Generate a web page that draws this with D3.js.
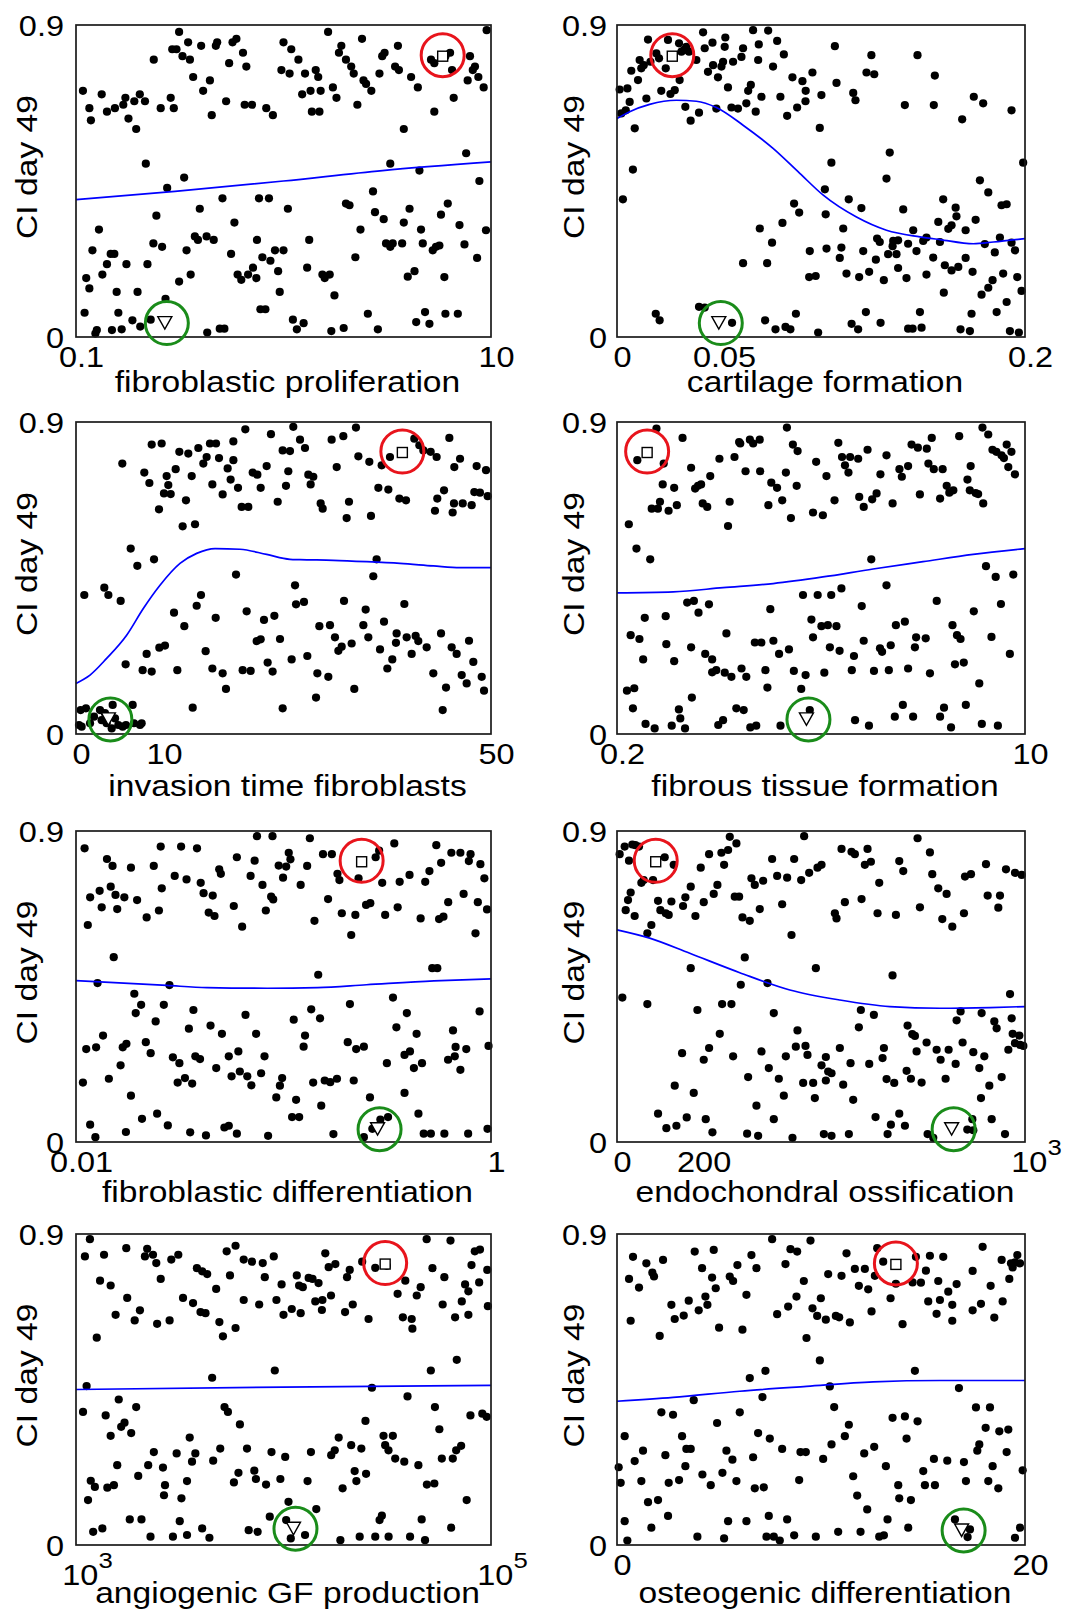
<!DOCTYPE html>
<html><head><meta charset="utf-8">
<script src="https://cdn.jsdelivr.net/npm/d3@7"></script>
<style>html,body{margin:0;padding:0;background:#fff;}svg{display:block;}</style>
</head><body>
<svg id="c" width="1073" height="1612"></svg>
<script>
// ---------- shared y axis ----------
const yDomain = [0, 0.9];
const yTickValues = [0, 0.9];
const yTickLabels = ['0', '0.9'];
const yTitle = 'CI day 49';

// ---------- panel titles & x ticks ----------
const xTitles = ['fibroblastic proliferation','cartilage formation','invasion time fibroblasts','fibrous tissue formation','fibroblastic differentiation','endochondral ossification','angiogenic GF production','osteogenic differentiation'];
const xDomains = [[0.1,10],[0,0.2],[0,50],[0.2,10],[0.01,1],[0,1000],[1000,100000],[0,20]];
const xLog = [true,false,false,true,true,false,true,false];
const xTickValues = [[0.1,10],[0,0.05,0.2],[0,10,50],[0.2,10],[0.01,1],[0,200,1000],[1000,100000],[0,20]];
const xTickLabels = [['0.1','10'],['0','0.05','0.2'],['0','10','50'],['0.2','10'],['0.01','1'],['0','200','10^3'],['10^3','10^5'],['0','20']];

// ---------- scatter samples [x, CI] ----------
const fibroProlifPts = [[0.108,0.71],[0.116,0.66],[0.118,0.625],[0.133,0.70],[0.141,0.65],[0.154,0.66],[0.169,0.67],[0.173,0.69],[0.179,0.63],[0.191,0.68],[0.195,0.60],[0.203,0.70],[0.215,0.68],[0.237,0.80],[0.256,0.66],[0.286,0.69],[0.296,0.66],[0.314,0.88],[0.291,0.83],[0.305,0.83],[0.326,0.81],[0.347,0.85],[0.354,0.80],[0.367,0.75],[0.401,0.84],[0.41,0.71],[0.442,0.74],[0.451,0.64],[0.472,0.84],[0.479,0.85],[0.529,0.68],[0.547,0.79],[0.568,0.85],[0.593,0.86],[0.638,0.82],[0.662,0.78],[0.65,0.67],[0.705,0.67],[0.826,0.66],[0.889,0.64],[1.0,0.85],[0.977,0.77],[1.09,0.83],[1.07,0.76],[1.18,0.80],[1.23,0.70],[1.27,0.76],[1.35,0.71],[1.37,0.65],[1.43,0.77],[1.47,0.75],[1.49,0.65],[1.51,0.71],[1.64,0.88],[1.73,0.72],[1.80,0.69],[1.85,0.82],[1.90,0.84],[2.0,0.80],[2.12,0.78],[2.18,0.76],[2.27,0.67],[2.39,0.86],[2.43,0.74],[2.50,0.73],[2.65,0.71],[2.90,0.76],[2.99,0.81],[3.07,0.82],[3.45,0.78],[3.56,0.84],[3.60,0.77],[3.80,0.60],[4.12,0.75],[4.44,0.72],[5.14,0.80],[5.33,0.65],[5.33,0.79],[6.03,0.81],[6.35,0.82],[6.49,0.77],[6.61,0.69],[7.92,0.81],[7.72,0.74],[8.17,0.77],[8.37,0.78],[8.69,0.75],[9.22,0.72],[9.53,0.885],[7.59,0.53],[0.217,0.50],[0.332,0.46],[0.275,0.43],[3.27,0.50],[4.52,0.48],[8.79,0.45],[0.129,0.31],[0.12,0.25],[0.112,0.17],[0.116,0.14],[0.11,0.07],[0.126,0.02],[0.124,0.01],[0.134,0.18],[0.141,0.21],[0.147,0.24],[0.153,0.24],[0.157,0.13],[0.16,0.07],[0.149,0.02],[0.166,0.022],[0.175,0.21],[0.187,0.048],[0.198,0.13],[0.204,0.03],[0.221,0.21],[0.229,0.05],[0.236,0.27],[0.244,0.35],[0.26,0.26],[0.27,0.11],[0.314,0.16],[0.341,0.25],[0.357,0.18],[0.374,0.29],[0.387,0.28],[0.395,0.37],[0.426,0.29],[0.429,0.013],[0.461,0.28],[0.493,0.024],[0.519,0.024],[0.508,0.40],[0.559,0.24],[0.58,0.33],[0.601,0.18],[0.626,0.165],[0.675,0.18],[0.713,0.20],[0.74,0.17],[0.745,0.28],[0.762,0.40],[0.774,0.08],[0.791,0.23],[0.818,0.08],[0.851,0.40],[0.865,0.22],[0.91,0.25],[0.942,0.19],[0.959,0.13],[1.0,0.25],[1.05,0.37],[1.11,0.05],[1.16,0.022],[1.25,0.04],[1.30,0.20],[1.33,0.28],[1.54,0.18],[1.58,0.17],[1.67,0.18],[1.70,0.017],[1.76,0.12],[1.95,0.026],[2.0,0.385],[2.08,0.38],[2.22,0.23],[2.35,0.31],[2.55,0.067],[2.70,0.42],[2.76,0.36],[2.85,0.022],[3.04,0.34],[3.12,0.27],[3.27,0.26],[3.36,0.27],[3.73,0.27],[3.80,0.33],[3.97,0.174],[4.05,0.37],[4.28,0.19],[4.36,0.043],[4.6,0.31],[4.69,0.27],[4.81,0.072],[5.05,0.038],[5.24,0.25],[5.43,0.26],[5.64,0.264],[5.74,0.353],[5.96,0.173],[6.03,0.067],[6.19,0.385],[6.92,0.067],[7.05,0.323],[7.45,0.267],[8.57,0.228],[9.46,0.308]];
const cartilagePts = [[0.0013,0.714],[0.0051,0.717],[0.0021,0.645],[0.0043,0.654],[0.0062,0.678],[0.0070,0.768],[0.0087,0.602],[0.0078,0.483],[0.0029,0.397],[0.0103,0.741],[0.0111,0.799],[0.0119,0.775],[0.0131,0.784],[0.0144,0.688],[0.0152,0.858],[0.0164,0.794],[0.0193,0.818],[0.0206,0.804],[0.0217,0.710],[0.0239,0.775],[0.0250,0.857],[0.0262,0.701],[0.0283,0.712],[0.0304,0.847],[0.0316,0.823],[0.0307,0.741],[0.0329,0.828],[0.0340,0.837],[0.0353,0.823],[0.0335,0.664],[0.0361,0.624],[0.0389,0.799],[0.0402,0.647],[0.0422,0.879],[0.0430,0.833],[0.0446,0.765],[0.0468,0.849],[0.0471,0.784],[0.0487,0.659],[0.0495,0.749],[0.0512,0.780],[0.0520,0.794],[0.0531,0.864],[0.0528,0.837],[0.0544,0.720],[0.0561,0.662],[0.0569,0.794],[0.0593,0.659],[0.0610,0.808],[0.0618,0.833],[0.0634,0.674],[0.0643,0.710],[0.0656,0.727],[0.0667,0.885],[0.0680,0.650],[0.0692,0.799],[0.0695,0.844],[0.0708,0.693],[0.0741,0.884],[0.0765,0.780],[0.0785,0.854],[0.0801,0.693],[0.0818,0.815],[0.0834,0.638],[0.0860,0.749],[0.0883,0.662],[0.0909,0.738],[0.0924,0.680],[0.0925,0.710],[0.0958,0.763],[0.0994,0.603],[0.1002,0.698],[0.1051,0.503],[0.1068,0.839],[0.1076,0.733],[0.1158,0.704],[0.1169,0.683],[0.1223,0.763],[0.1247,0.813],[0.1261,0.758],[0.1411,0.669],[0.1473,0.813],[0.1553,0.669],[0.1558,0.754],[0.1692,0.628],[0.1749,0.693],[0.1795,0.674],[0.1934,0.654],[0.1337,0.532],[0.1321,0.457],[0.1019,0.426],[0.1991,0.503],[0.1779,0.452],[0.1820,0.417],[0.1599,0.397],[0.1660,0.373],[0.1885,0.380],[0.1910,0.383],[0.1136,0.397],[0.1198,0.372],[0.0868,0.385],[0.0893,0.359],[0.1023,0.354],[0.1403,0.368],[0.1664,0.348],[0.1575,0.332],[0.1624,0.312],[0.1640,0.322],[0.1758,0.338],[0.1709,0.308],[0.1109,0.313],[0.1452,0.308],[0.1517,0.287],[0.1501,0.277],[0.1583,0.274],[0.1877,0.287],[0.1934,0.272],[0.1275,0.284],[0.1288,0.274],[0.1354,0.277],[0.1378,0.279],[0.1351,0.262],[0.1427,0.269],[0.1803,0.268],[0.0811,0.329],[0.0700,0.313],[0.0760,0.272],[0.0945,0.248],[0.1027,0.255],[0.1100,0.258],[0.1207,0.248],[0.1329,0.239],[0.1370,0.239],[0.1468,0.248],[0.1852,0.244],[0.1951,0.250],[0.1092,0.228],[0.1269,0.223],[0.1550,0.229],[0.1709,0.228],[0.0618,0.213],[0.0736,0.213],[0.1607,0.207],[0.1673,0.202],[0.1125,0.183],[0.1187,0.173],[0.1236,0.188],[0.1378,0.199],[0.1517,0.180],[0.1640,0.192],[0.1743,0.188],[0.1893,0.183],[0.1962,0.173],[0.0942,0.173],[0.0974,0.176],[0.1308,0.164],[0.1419,0.170],[0.1841,0.164],[0.1820,0.142],[0.1787,0.122],[0.1602,0.128],[0.1983,0.133],[0.1910,0.101],[0.1861,0.072],[0.0402,0.087],[0.0430,0.085],[0.0190,0.067],[0.0209,0.048],[0.0564,0.041],[0.0726,0.048],[0.0777,0.022],[0.0826,0.029],[0.0850,0.022],[0.0877,0.067],[0.0986,0.013],[0.1150,0.038],[0.1182,0.022],[0.1220,0.072],[0.1292,0.041],[0.1427,0.024],[0.1449,0.024],[0.1485,0.072],[0.1493,0.027],[0.1684,0.022],[0.1730,0.017],[0.1738,0.067],[0.1926,0.017],[0.1970,0.013]];
const invasionPts = [[5.58,0.780],[8.23,0.754],[8.84,0.724],[9.12,0.835],[10.0,0.648],[10.32,0.838],[10.60,0.694],[10.92,0.744],[11.12,0.718],[11.41,0.692],[12.01,0.764],[12.45,0.814],[12.85,0.599],[13.25,0.674],[13.53,0.809],[13.94,0.744],[14.34,0.605],[14.74,0.825],[15.34,0.780],[15.74,0.799],[16.14,0.838],[16.43,0.720],[16.87,0.838],[17.23,0.796],[17.67,0.691],[18.27,0.766],[18.63,0.734],[18.96,0.844],[18.96,0.790],[19.52,0.710],[19.96,0.655],[20.40,0.879],[20.76,0.655],[21.29,0.754],[21.85,0.748],[22.25,0.710],[22.97,0.773],[23.49,0.865],[24.30,0.670],[24.90,0.818],[25.30,0.716],[25.58,0.758],[25.78,0.816],[26.18,0.886],[26.99,0.849],[27.59,0.825],[27.99,0.748],[28.27,0.720],[28.59,0.742],[29.48,0.665],[29.72,0.650],[30.80,0.849],[31.41,0.770],[32.21,0.859],[32.61,0.623],[32.89,0.670],[33.73,0.884],[34.02,0.801],[35.34,0.785],[35.54,0.629],[36.43,0.710],[36.83,0.775],[37.63,0.705],[37.83,0.799],[38.96,0.679],[39.76,0.674],[40.76,0.852],[41.37,0.833],[41.85,0.818],[42.73,0.814],[43.45,0.799],[43.25,0.644],[43.53,0.679],[44.34,0.703],[44.98,0.854],[45.38,0.639],[45.58,0.770],[46.27,0.794],[45.54,0.665],[46.59,0.665],[47.67,0.660],[47.99,0.698],[48.27,0.773],[48.67,0.696],[49.40,0.761],[49.60,0.686],[6.59,0.535],[9.40,0.504],[7.39,0.485],[1.00,0.401],[3.41,0.422],[3.90,0.401],[5.38,0.384],[19.28,0.460],[36.22,0.504],[35.82,0.455],[26.39,0.429],[15.06,0.401],[14.54,0.370],[11.81,0.350],[13.05,0.311],[5.98,0.201],[8.03,0.184],[9.12,0.180],[8.51,0.231],[10.04,0.249],[10.72,0.255],[12.21,0.184],[14.06,0.076],[15.62,0.239],[16.43,0.189],[16.83,0.335],[17.67,0.175],[18.07,0.130],[20.08,0.184],[20.56,0.354],[21.04,0.182],[21.77,0.268],[22.25,0.273],[22.65,0.329],[23.09,0.206],[23.69,0.180],[23.90,0.341],[24.58,0.274],[25.98,0.215],[26.51,0.374],[27.47,0.381],[27.87,0.225],[28.92,0.105],[29.08,0.175],[29.32,0.311],[30.40,0.165],[30.60,0.314],[31.20,0.279],[31.61,0.240],[32.01,0.252],[32.29,0.384],[33.21,0.261],[33.53,0.130],[34.62,0.314],[34.90,0.359],[35.22,0.279],[36.63,0.244],[37.11,0.324],[37.51,0.189],[38.11,0.215],[38.63,0.290],[38.55,0.263],[39.56,0.375],[39.84,0.279],[40.44,0.231],[40.92,0.283],[41.24,0.268],[42.25,0.250],[43.05,0.175],[43.98,0.290],[44.18,0.069],[44.58,0.134],[45.26,0.250],[45.86,0.231],[46.47,0.170],[47.07,0.146],[47.35,0.269],[47.87,0.208],[48.88,0.165],[49.16,0.125],[24.90,0.074],[0.36,0.026],[0.68,0.021],[0.56,0.069],[1.20,0.074],[1.69,0.031],[2.17,0.050],[2.89,0.069],[3.09,0.040],[3.49,0.060],[3.69,0.031],[4.42,0.084],[4.30,0.016],[4.70,0.045],[5.10,0.026],[5.62,0.021],[6.02,0.026],[6.83,0.084],[6.99,0.031],[7.71,0.026],[7.91,0.031]];
const fibrousPts = [[0.292,0.881],[0.243,0.790],[0.313,0.780],[0.224,0.605],[0.241,0.535],[0.275,0.504],[0.279,0.650],[0.296,0.650],[0.302,0.670],[0.310,0.720],[0.328,0.644],[0.346,0.710],[0.355,0.660],[0.375,0.854],[0.407,0.768],[0.423,0.708],[0.435,0.716],[0.448,0.720],[0.455,0.665],[0.475,0.655],[0.489,0.744],[0.534,0.794],[0.580,0.600],[0.589,0.670],[0.617,0.799],[0.645,0.842],[0.652,0.838],[0.686,0.758],[0.715,0.849],[0.738,0.838],[0.786,0.849],[0.789,0.758],[0.854,0.660],[0.878,0.725],[0.928,0.710],[0.975,0.674],[1.01,0.754],[1.02,0.884],[1.06,0.623],[1.08,0.835],[1.13,0.816],[1.12,0.716],[1.31,0.639],[1.35,0.785],[1.44,0.631],[1.49,0.744],[1.61,0.674],[1.67,0.840],[1.73,0.799],[1.78,0.775],[1.84,0.754],[1.87,0.799],[2.02,0.794],[2.04,0.684],[2.13,0.655],[2.21,0.820],[2.31,0.677],[2.41,0.694],[2.50,0.749],[2.65,0.804],[2.81,0.665],[3.0,0.764],[3.07,0.742],[3.26,0.773],[3.37,0.835],[3.58,0.826],[3.65,0.691],[3.90,0.823],[3.96,0.780],[4.09,0.854],[4.17,0.764],[4.43,0.679],[4.54,0.764],[4.72,0.716],[4.84,0.696],[5.03,0.703],[5.32,0.859],[5.76,0.734],[5.89,0.703],[5.94,0.773],[6.23,0.695],[6.38,0.692],[6.70,0.665],[6.65,0.884],[7.03,0.864],[7.32,0.820],[7.60,0.814],[7.98,0.804],[8.17,0.796],[8.39,0.835],[8.52,0.770],[8.78,0.814],[9.08,0.749],[2.29,0.504],[2.65,0.429],[6.88,0.484],[7.55,0.453],[8.94,0.460],[7.94,0.375],[4.29,0.384],[6.12,0.354],[0.261,0.335],[0.228,0.285],[0.248,0.274],[0.257,0.215],[0.220,0.125],[0.236,0.132],[0.233,0.074],[0.263,0.029],[0.287,0.016],[0.319,0.340],[0.321,0.259],[0.338,0.024],[0.346,0.210],[0.362,0.071],[0.367,0.045],[0.384,0.016],[0.392,0.379],[0.418,0.384],[0.437,0.350],[0.407,0.250],[0.410,0.105],[0.466,0.231],[0.483,0.374],[0.498,0.215],[0.498,0.178],[0.518,0.184],[0.528,0.026],[0.553,0.040],[0.571,0.290],[0.562,0.177],[0.599,0.165],[0.628,0.074],[0.660,0.189],[0.674,0.069],[0.691,0.165],[0.718,0.019],[0.750,0.264],[0.760,0.024],[0.798,0.264],[0.830,0.184],[0.846,0.134],[0.870,0.360],[0.896,0.269],[0.946,0.231],[0.959,0.024],[1.04,0.244],[1.09,0.182],[1.17,0.130],[1.19,0.401],[1.22,0.170],[1.27,0.069],[1.29,0.330],[1.31,0.279],[1.37,0.401],[1.42,0.311],[1.46,0.177],[1.51,0.314],[1.54,0.250],[1.56,0.401],[1.64,0.311],[1.69,0.240],[1.72,0.420],[1.90,0.184],[1.94,0.225],[1.96,0.040],[2.09,0.369],[2.13,0.269],[2.24,0.024],[2.35,0.182],[2.49,0.247],[2.54,0.237],[2.71,0.184],[2.76,0.256],[2.87,0.050],[2.90,0.314],[3.10,0.084],[3.16,0.324],[3.26,0.189],[3.42,0.050],[3.48,0.250],[3.52,0.279],[3.86,0.276],[4.02,0.175],[4.43,0.050],[4.60,0.076],[4.92,0.019],[4.99,0.314],[5.21,0.285],[5.39,0.274],[5.11,0.201],[5.56,0.206],[5.67,0.084],[6.45,0.146],[6.61,0.029],[7.25,0.280],[7.71,0.024],[8.65,0.231]];
const fibroDiffPts = [[0.0110,0.850],[0.0114,0.628],[0.0117,0.708],[0.0130,0.727],[0.0133,0.679],[0.0141,0.819],[0.0147,0.739],[0.0150,0.799],[0.0152,0.535],[0.0155,0.715],[0.0158,0.674],[0.0171,0.708],[0.0184,0.794],[0.0197,0.700],[0.0219,0.650],[0.0237,0.799],[0.0251,0.670],[0.0256,0.855],[0.0259,0.734],[0.0299,0.770],[0.0321,0.855],[0.0341,0.760],[0.0383,0.850],[0.0399,0.750],[0.0412,0.720],[0.0436,0.664],[0.0456,0.713],[0.0465,0.654],[0.0490,0.789],[0.0499,0.776],[0.0576,0.683],[0.0596,0.824],[0.0632,0.623],[0.0694,0.770],[0.0726,0.814],[0.0745,0.885],[0.0792,0.744],[0.0822,0.670],[0.0872,0.710],[0.0892,0.702],[0.0885,0.885],[0.0948,0.800],[0.0995,0.765],[0.103,0.797],[0.106,0.837],[0.108,0.818],[0.121,0.744],[0.130,0.799],[0.134,0.879],[0.141,0.640],[0.155,0.833],[0.164,0.703],[0.171,0.833],[0.186,0.758],[0.182,0.776],[0.191,0.662],[0.212,0.599],[0.222,0.657],[0.230,0.763],[0.250,0.686],[0.262,0.691],[0.278,0.824],[0.289,0.843],[0.299,0.750],[0.309,0.657],[0.342,0.864],[0.355,0.679],[0.363,0.753],[0.405,0.773],[0.458,0.647],[0.482,0.753],[0.505,0.784],[0.545,0.859],[0.562,0.645],[0.575,0.808],[0.590,0.652],[0.622,0.694],[0.644,0.837],[0.712,0.837],[0.738,0.718],[0.782,0.813],[0.797,0.833],[0.842,0.604],[0.864,0.694],[0.889,0.804],[0.929,0.763],[0.957,0.673],[0.147,0.484],[0.521,0.503],[0.551,0.503],[0.0127,0.460],[0.0282,0.454],[0.881,0.378],[0.0191,0.429],[0.0206,0.397],[0.0194,0.373],[0.0265,0.397],[0.0368,0.382],[0.0242,0.349],[0.0350,0.328],[0.0445,0.337],[0.0505,0.313],[0.0656,0.368],[0.0738,0.313],[0.112,0.354],[0.127,0.308],[0.125,0.276],[0.136,0.384],[0.150,0.358],[0.209,0.399],[0.204,0.289],[0.224,0.269],[0.244,0.276],[0.337,0.418],[0.350,0.332],[0.393,0.373],[0.438,0.313],[0.656,0.323],[0.675,0.275],[0.760,0.269],[0.973,0.278],[0.0135,0.308],[0.0112,0.269],[0.0125,0.274],[0.0168,0.274],[0.0175,0.284],[0.0217,0.289],[0.0229,0.257],[0.0293,0.245],[0.0315,0.228],[0.0376,0.248],[0.0396,0.240],[0.0474,0.214],[0.0545,0.248],[0.0606,0.262],[0.0810,0.248],[0.0164,0.222],[0.0108,0.172],[0.0144,0.183],[0.0184,0.134],[0.0309,0.172],[0.0335,0.185],[0.0363,0.169],[0.0562,0.190],[0.0616,0.204],[0.0669,0.190],[0.0700,0.164],[0.0780,0.199],[0.0923,0.129],[0.0961,0.163],[0.0985,0.185],[0.115,0.122],[0.139,0.172],[0.158,0.178],[0.168,0.173],[0.181,0.183],[0.218,0.178],[0.315,0.228],[0.383,0.252],[0.407,0.262],[0.425,0.214],[0.465,0.228],[0.621,0.238],[0.669,0.248],[0.712,0.209],[0.383,0.142],[0.261,0.129],[0.152,0.105],[0.110,0.072],[0.119,0.072],[0.447,0.082],[0.0117,0.050],[0.0124,0.014],[0.0174,0.029],[0.0208,0.067],[0.0246,0.082],[0.0277,0.048],[0.0355,0.028],[0.0423,0.019],[0.0519,0.042],[0.0545,0.047],[0.0596,0.024],[0.0843,0.018],[0.174,0.023],[0.244,0.014],[0.268,0.038],[0.293,0.065],[0.319,0.072],[0.474,0.024],[0.513,0.024],[0.596,0.024],[0.776,0.024],[0.962,0.038]];
const endochondralPts = [[6.5,0.833],[18.8,0.855],[29.4,0.814],[37.6,0.861],[45.0,0.859],[54.0,0.855],[59.7,0.750],[65.4,0.758],[27.0,0.700],[33.5,0.722],[21.3,0.671],[43.3,0.654],[74.4,0.604],[84.2,0.628],[88.3,0.758],[100.6,0.698],[106.3,0.671],[116.9,0.824],[119.4,0.662],[126.7,0.657],[133.3,0.696],[139.0,0.802],[161.9,0.683],[167.6,0.708],[180.7,0.739],[192.2,0.654],[205.2,0.794],[212.6,0.694],[225.7,0.833],[237.1,0.718],[246.1,0.744],[255.9,0.837],[262.5,0.802],[272.3,0.845],[276.4,0.883],[292.7,0.864],[288.6,0.710],[299.3,0.710],[307.5,0.650],[325.4,0.640],[329.5,0.763],[337.7,0.744],[350.0,0.674],[358.2,0.756],[380.2,0.819],[392.5,0.770],[404.8,0.688],[417.0,0.765],[427.7,0.599],[434.2,0.819],[451.4,0.758],[458.7,0.885],[471.0,0.779],[491.4,0.794],[501.3,0.802],[534.0,0.662],[538.0,0.647],[550.3,0.848],[558.5,0.694],[574.8,0.840],[583.0,0.833],[599.4,0.703],[607.5,0.802],[614.1,0.848],[622.3,0.811],[638.6,0.662],[642.7,0.750],[683.6,0.657],[691.8,0.813],[701.6,0.784],[736.7,0.879],[742.5,0.679],[767.0,0.838],[772.7,0.775],[787.4,0.734],[797.3,0.645],[807.9,0.718],[821.8,0.623],[850.4,0.662],[852.9,0.768],[867.6,0.775],[904.4,0.804],[908.5,0.713],[934.6,0.678],[938.7,0.713],[953.4,0.789],[975.5,0.779],[991.9,0.773],[13.1,0.418],[74.4,0.399],[180.7,0.503],[313.2,0.534],[303.4,0.455],[368.8,0.460],[487.4,0.503],[675.4,0.482],[963.3,0.428],[197.1,0.382],[257.6,0.399],[280.5,0.399],[384.3,0.373],[597.7,0.382],[592.8,0.332],[629.6,0.368],[832.4,0.352],[842.2,0.378],[893.7,0.373],[924.8,0.349],[930.5,0.329],[967.3,0.358],[969.8,0.313],[986.1,0.308],[987.8,0.281],[712.2,0.337],[723.7,0.312],[730.2,0.307],[442.4,0.323],[251.9,0.313],[225.7,0.272],[159.5,0.257],[212.6,0.238],[284.6,0.248],[354.1,0.262],[372.1,0.214],[413.8,0.248],[438.3,0.276],[462.0,0.278],[466.9,0.252],[511.9,0.246],[501.3,0.222],[517.6,0.204],[525.8,0.199],[546.2,0.272],[572.4,0.228],[618.2,0.226],[654.2,0.272],[650.9,0.243],[734.3,0.262],[758.8,0.288],[783.4,0.267],[793.2,0.238],[812.8,0.267],[830.0,0.226],[847.1,0.288],[873.3,0.260],[900.3,0.248],[888.0,0.214],[959.2,0.267],[975.5,0.286],[141.5,0.163],[188.1,0.142],[321.4,0.188],[396.6,0.183],[408.9,0.134],[456.3,0.171],[480.8,0.171],[484.9,0.127],[511.9,0.178],[554.4,0.166],[578.9,0.122],[660.7,0.182],[679.5,0.171],[709.8,0.206],[720.4,0.183],[746.6,0.172],[805.4,0.183],[912.6,0.163],[942.8,0.188],[892.1,0.127],[100.6,0.082],[121.0,0.040],[145.6,0.047],[170.9,0.071],[217.5,0.066],[233.9,0.028],[318.9,0.024],[341.8,0.105],[345.9,0.018],[384.3,0.066],[430.1,0.012],[507.0,0.023],[525.8,0.018],[568.3,0.023],[633.7,0.072],[663.2,0.023],[671.3,0.050],[691.8,0.082],[705.7,0.047],[761.3,0.023],[775.2,0.012],[858.6,0.036],[873.3,0.034],[870.9,0.066],[918.3,0.066],[951.0,0.023],[996.0,0.278]];
const angiogenicPts = [[1104,0.835],[1167,0.885],[1259,0.600],[1306,0.765],[1365,0.840],[1469,0.751],[1552,0.666],[1747,0.859],[1765,0.715],[1918,0.650],[2033,0.679],[2149,0.835],[2203,0.857],[2350,0.840],[2437,0.816],[2460,0.640],[2560,0.770],[2826,0.650],[2879,0.826],[3112,0.840],[3279,0.715],[3665,0.700],[3826,0.801],[3981,0.674],[4055,0.792],[4208,0.671],[4288,0.784],[4737,0.741],[4909,0.645],[5107,0.604],[5323,0.850],[5523,0.780],[5874,0.866],[5874,0.628],[6430,0.709],[6430,0.826],[7048,0.820],[7635,0.696],[7943,0.816],[8125,0.775],[8976,0.835],[9246,0.709],[9789,0.754],[10000,0.666],[10960,0.683],[11590,0.780],[11890,0.751],[12100,0.671],[12390,0.746],[13220,0.773],[13800,0.770],[14230,0.705],[14750,0.758],[15310,0.680],[15400,0.709],[15900,0.844],[16510,0.804],[16940,0.722],[17780,0.813],[19800,0.674],[20240,0.775],[20850,0.796],[21570,0.696],[23940,0.820],[25700,0.654],[27680,0.802],[31450,0.808],[35480,0.727],[37600,0.659],[38640,0.765],[41800,0.626],[41480,0.654],[43870,0.722],[45820,0.746],[48970,0.885],[52220,0.801],[58490,0.696],[59590,0.775],[63800,0.881],[67130,0.659],[72310,0.705],[75020,0.754],[77800,0.666],[77800,0.734],[80540,0.810],[83560,0.850],[87690,0.760],[88490,0.855],[95950,0.796],[96600,0.691],[1125,0.460],[4530,0.484],[9080,0.505],[26680,0.455],[51290,0.505],[68400,0.536],[39600,0.430],[1081,0.385],[1607,0.421],[1950,0.399],[1390,0.375],[1651,0.342],[1713,0.354],[1469,0.316],[1845,0.324],[5197,0.399],[5398,0.385],[6165,0.349],[3532,0.311],[24830,0.359],[53680,0.399],[79600,0.375],[90790,0.380],[95320,0.371],[56380,0.335],[30340,0.316],[33650,0.316],[18450,0.311],[21190,0.289],[23720,0.279],[30900,0.289],[32060,0.274],[17660,0.274],[16980,0.260],[71800,0.287],[67950,0.274],[2372,0.269],[3055,0.265],[3760,0.265],[3624,0.241],[4956,0.279],[6670,0.279],[8753,0.269],[10190,0.255],[13560,0.269],[4582,0.244],[1580,0.231],[2228,0.231],[2625,0.224],[1995,0.200],[3428,0.185],[6066,0.209],[7232,0.215],[22030,0.214],[25000,0.206],[34540,0.250],[38200,0.241],[44670,0.231],[57940,0.250],[65440,0.250],[1178,0.186],[1233,0.168],[1416,0.166],[1523,0.173],[2685,0.173],[2655,0.144],[5769,0.181],[7364,0.191],[8240,0.175],[9659,0.191],[13060,0.185],[19270,0.164],[22450,0.185],[49100,0.175],[53330,0.178],[1143,0.130],[3222,0.135],[10570,0.125],[76350,0.130],[14390,0.104],[8587,0.082],[10300,0.072],[1816,0.074],[2068,0.074],[3162,0.069],[29040,0.072],[29790,0.085],[46340,0.074],[1210,0.038],[1340,0.048],[2286,0.024],[2932,0.024],[3428,0.029],[4055,0.048],[4395,0.021],[6796,0.043],[7503,0.038],[10840,0.019],[12700,0.029],[18800,0.014],[23290,0.024],[27680,0.024],[32100,0.024],[40730,0.024],[48090,0.014],[64260,0.050]];
const osteogenicPts = [[0.589,0.770],[0.670,0.649],[0.785,0.834],[1.079,0.745],[1.439,0.815],[1.733,0.788],[1.815,0.777],[2.093,0.605],[2.257,0.825],[2.666,0.695],[2.829,0.654],[3.271,0.664],[3.516,0.707],[3.810,0.849],[4.006,0.679],[4.170,0.801],[4.334,0.719],[4.432,0.695],[4.661,0.774],[4.742,0.854],[4.840,0.743],[5.004,0.629],[5.527,0.777],[5.691,0.764],[5.903,0.810],[6.149,0.623],[6.345,0.724],[6.590,0.839],[6.836,0.801],[7.604,0.885],[7.850,0.668],[8.258,0.813],[8.389,0.690],[8.504,0.856],[8.798,0.719],[8.831,0.849],[9.158,0.764],[9.289,0.599],[9.485,0.881],[9.583,0.685],[9.812,0.663],[9.992,0.714],[10.237,0.652],[10.352,0.784],[10.728,0.663],[10.891,0.659],[11.006,0.779],[11.251,0.844],[11.415,0.644],[11.660,0.799],[11.856,0.750],[12.150,0.799],[12.314,0.740],[12.477,0.676],[12.641,0.779],[12.755,0.859],[13.050,0.820],[13.410,0.714],[13.671,0.756],[13.998,0.639],[14.489,0.760],[14.653,0.834],[14.898,0.759],[15.143,0.794],[15.257,0.705],[15.339,0.837],[15.666,0.669],[15.748,0.764],[15.830,0.709],[15.993,0.834],[16.239,0.733],[16.435,0.695],[16.435,0.649],[16.648,0.755],[17.433,0.679],[17.433,0.793],[17.841,0.698],[17.923,0.863],[18.316,0.750],[18.495,0.658],[18.855,0.825],[18.904,0.705],[19.231,0.770],[19.313,0.815],[19.395,0.803],[19.509,0.818],[19.624,0.839],[19.755,0.815],[9.943,0.534],[14.603,0.504],[6.509,0.483],[7.277,0.504],[7.130,0.428],[10.433,0.459],[16.762,0.454],[3.761,0.419],[2.175,0.384],[2.747,0.377],[4.906,0.353],[6.018,0.384],[10.646,0.399],[13.508,0.368],[14.113,0.372],[14.734,0.358],[17.596,0.398],[18.283,0.398],[18.071,0.339],[18.741,0.329],[19.182,0.334],[0.376,0.315],[3.189,0.315],[3.401,0.278],[3.614,0.278],[6.917,0.324],[7.490,0.308],[8.095,0.278],[8.994,0.269],[9.256,0.269],[10.106,0.249],[10.515,0.291],[11.169,0.315],[11.365,0.348],[12.608,0.284],[14.194,0.308],[17.760,0.291],[17.661,0.273],[19.100,0.269],[0.867,0.243],[1.276,0.273],[2.371,0.260],[0.082,0.225],[3.352,0.228],[5.364,0.273],[5.658,0.247],[6.672,0.254],[12.118,0.265],[13.181,0.228],[15.535,0.249],[16.190,0.244],[17.007,0.240],[18.414,0.228],[19.886,0.216],[0.180,0.180],[1.194,0.185],[2.535,0.180],[3.042,0.188],[4.186,0.204],[4.595,0.173],[5.168,0.209],[5.854,0.185],[6.754,0.164],[7.195,0.167],[8.929,0.188],[11.578,0.199],[13.786,0.173],[15.012,0.214],[15.094,0.173],[15.585,0.173],[17.105,0.185],[18.201,0.185],[18.692,0.164],[1.521,0.124],[2.011,0.130],[2.502,0.084],[11.774,0.143],[12.265,0.103],[13.835,0.135],[14.407,0.130],[0.376,0.069],[1.684,0.050],[5.446,0.069],[6.345,0.069],[7.441,0.084],[8.340,0.074],[13.262,0.074],[16.566,0.074],[0.507,0.013],[3.941,0.024],[5.249,0.019],[7.326,0.024],[7.686,0.024],[7.980,0.013],[8.684,0.028],[9.747,0.024],[10.842,0.038],[11.938,0.038],[12.854,0.024],[13.083,0.028],[14.276,0.050],[17.187,0.023],[17.302,0.045],[19.509,0.021],[19.755,0.050]];

// ---------- smoothed trend curves [x, CI] ----------
const fibroProlifCurve = [[0.1,0.396],[0.3,0.42],[1,0.45],[3,0.48],[10,0.505]];
const cartilageCurve = [[0,0.630],[0.0062,0.650],[0.016,0.671],[0.0291,0.683],[0.0389,0.680],[0.0487,0.662],[0.0618,0.611],[0.0765,0.544],[0.0896,0.472],[0.1011,0.409],[0.1174,0.346],[0.1321,0.308],[0.1485,0.289],[0.1583,0.281],[0.1747,0.269],[0.1845,0.274],[0.2,0.284]];
const invasionCurve = [[0,0.146],[1.69,0.170],[3.69,0.218],[6.10,0.285],[8.11,0.362],[10.12,0.429],[12.53,0.492],[14.54,0.521],[16.75,0.535],[19.76,0.533],[22.97,0.518],[25.78,0.504],[26.99,0.503],[31.0,0.501],[35.02,0.497],[39.04,0.492],[43.05,0.485],[46.27,0.480],[50,0.480]];
const fibrousCurve = [[0.2,0.407],[0.343,0.410],[0.553,0.422],[0.894,0.434],[1.44,0.453],[2.33,0.476],[3.76,0.497],[6.08,0.518],[10,0.535]];
const fibroDiffCurve = [[0.01,0.467],[0.0274,0.453],[0.0428,0.447],[0.0834,0.445],[0.146,0.447],[0.251,0.455],[0.531,0.466],[1,0.472]];
const endochondralCurve = [[0,0.614],[80.1,0.590],[178.3,0.546],[300.9,0.490],[423.6,0.440],[546.2,0.411],[668.9,0.392],[791.5,0.387],[914.2,0.389],[1000,0.392]];
const angiogenicCurve = [[1000,0.450],[10000,0.457],[100000,0.462]];
const osteogenicCurve = [[0,0.416],[2.747,0.427],[6.018,0.445],[9.289,0.459],[12.559,0.472],[15.830,0.476],[20,0.476]];

// ---------- highlighted samples: best (square) and worst (triangle) ----------
const bestSample = [[5.85,0.81],[0.0271,0.810],[39.32,0.812],[0.267,0.812],[0.238,0.811],[94.9,0.811],[30900,0.813],[13.671,0.812]];
const worstSample = [[0.268,0.043],[0.0499,0.043],[3.90,0.045],[1.23,0.045],[0.284,0.040],[820.2,0.040],[11170,0.050],[16.893,0.045]];

const allPts = [fibroProlifPts,cartilagePts,invasionPts,fibrousPts,fibroDiffPts,endochondralPts,angiogenicPts,osteogenicPts];
const allCurves = [fibroProlifCurve,cartilageCurve,invasionCurve,fibrousCurve,fibroDiffCurve,endochondralCurve,angiogenicCurve,osteogenicCurve];

// ---------- layout ----------
const colX = [[76,491],[617,1025]];
const rowY = [[25,337],[422,734],[831,1142],[1234,1545]];
const titleGap = [55, 62, 60, 58];
const FONT = '"Liberation Sans", Arial, Helvetica, sans-serif';
const SX = 1.12;

const svg = d3.select('#c');

xTitles.forEach((title, i) => {
  const col = i % 2, row = Math.floor(i / 2);
  const [x0, x1] = colX[col], [y0, y1] = rowY[row];
  const x = (xLog[i] ? d3.scaleLog() : d3.scaleLinear()).domain(xDomains[i]).range([x0, x1]);
  const y = d3.scaleLinear().domain(yDomain).range([y1, y0]);
  const g = svg.append('g');

  // scatter
  g.append('g').selectAll('circle').data(allPts[i]).join('circle')
    .attr('cx', d => x(d[0])).attr('cy', d => y(d[1])).attr('r', 4.1).attr('fill', '#000');

  // trend
  g.append('path').datum(allCurves[i])
    .attr('d', d3.line().x(d => x(d[0])).y(d => y(d[1])).curve(d3.curveMonotoneX))
    .attr('fill', 'none').attr('stroke', '#0000ff').attr('stroke-width', 1.7);

  // box
  g.append('rect').attr('x', x0).attr('y', y0).attr('width', x1 - x0).attr('height', y1 - y0)
    .attr('fill', 'none').attr('stroke', '#1a1a1a').attr('stroke-width', 1.7);

  // best sample: square + red circle
  const bx = x(bestSample[i][0]), by = y(bestSample[i][1]);
  g.append('rect').attr('x', bx - 5).attr('y', by - 5).attr('width', 10).attr('height', 10)
    .attr('fill', '#fff').attr('stroke', '#000').attr('stroke-width', 1.4);
  g.append('circle').attr('cx', bx).attr('cy', by - 1).attr('r', 21.5)
    .attr('fill', 'none').attr('stroke', '#e8141c').attr('stroke-width', 3);

  // worst sample: down triangle + green circle
  const wx = x(worstSample[i][0]), wy = y(worstSample[i][1]);
  g.append('path').attr('d', `M${wx-7},${wy-5.5}L${wx+7},${wy-5.5}L${wx},${wy+7}Z`)
    .attr('fill', '#fff').attr('stroke', '#000').attr('stroke-width', 1.4);
  g.append('circle').attr('cx', wx + 2).attr('cy', wy + 1).attr('r', 21.5)
    .attr('fill', 'none').attr('stroke', '#1a8c1a').attr('stroke-width', 3);

  // x axis
  const expRow = xTickLabels[i].every(s => s.includes('^'));
  const base = expRow ? 40 : 30;
  const xa = g.append('g').attr('transform', `translate(0,${y1})`)
    .call(d3.axisBottom(x).tickValues(xTickValues[i]).tickSize(0).tickFormat((d, k) => xTickLabels[i][k]));
  xa.select('.domain').remove();
  xa.selectAll('text').each(function(d, k) {
    const lab = xTickLabels[i][k];
    const t = d3.select(this).attr('font-family', FONT).attr('font-size', 29).attr('fill', '#000')
      .attr('dy', null).attr('y', base).attr('transform', `scale(${SX},1)`);
    if (lab.includes('^')) {
      const [b, e] = lab.split('^');
      t.text(null).attr('x', 11 / SX);
      t.append('tspan').text(b);
      t.append('tspan').text(e).attr('font-size', 23).attr('dy', -17);
    } else {
      t.attr('x', 5 / SX);
    }
  });

  // y axis
  const ya = g.append('g').attr('transform', `translate(${x0},0)`)
    .call(d3.axisLeft(y).tickValues(yTickValues).tickSize(0).tickFormat((d, k) => yTickLabels[k]));
  ya.select('.domain').remove();
  ya.selectAll('text').attr('font-family', FONT).attr('font-size', 29).attr('fill', '#000')
    .attr('x', (col === 0 ? -12 : -10) / SX).attr('dy', '0.35em').attr('transform', `scale(${SX},1)`);

  // x title
  g.append('g').attr('transform', `translate(${(x0 + x1) / 2 + 4},${y1 + titleGap[row]})`)
    .append('text').attr('transform', `scale(${SX},1)`).attr('text-anchor', 'middle')
    .attr('font-family', FONT).attr('font-size', 30).attr('fill', '#000').text(title);

  // y title
  g.append('g').attr('transform', `translate(${x0 - (col === 0 ? 39 : 33)},${(y0 + y1) / 2 - 14}) rotate(-90)`)
    .append('text').attr('transform', `scale(${SX},1)`).attr('text-anchor', 'middle')
    .attr('font-family', FONT).attr('font-size', 30).attr('fill', '#000').text(yTitle);
});
</script>
</body></html>
